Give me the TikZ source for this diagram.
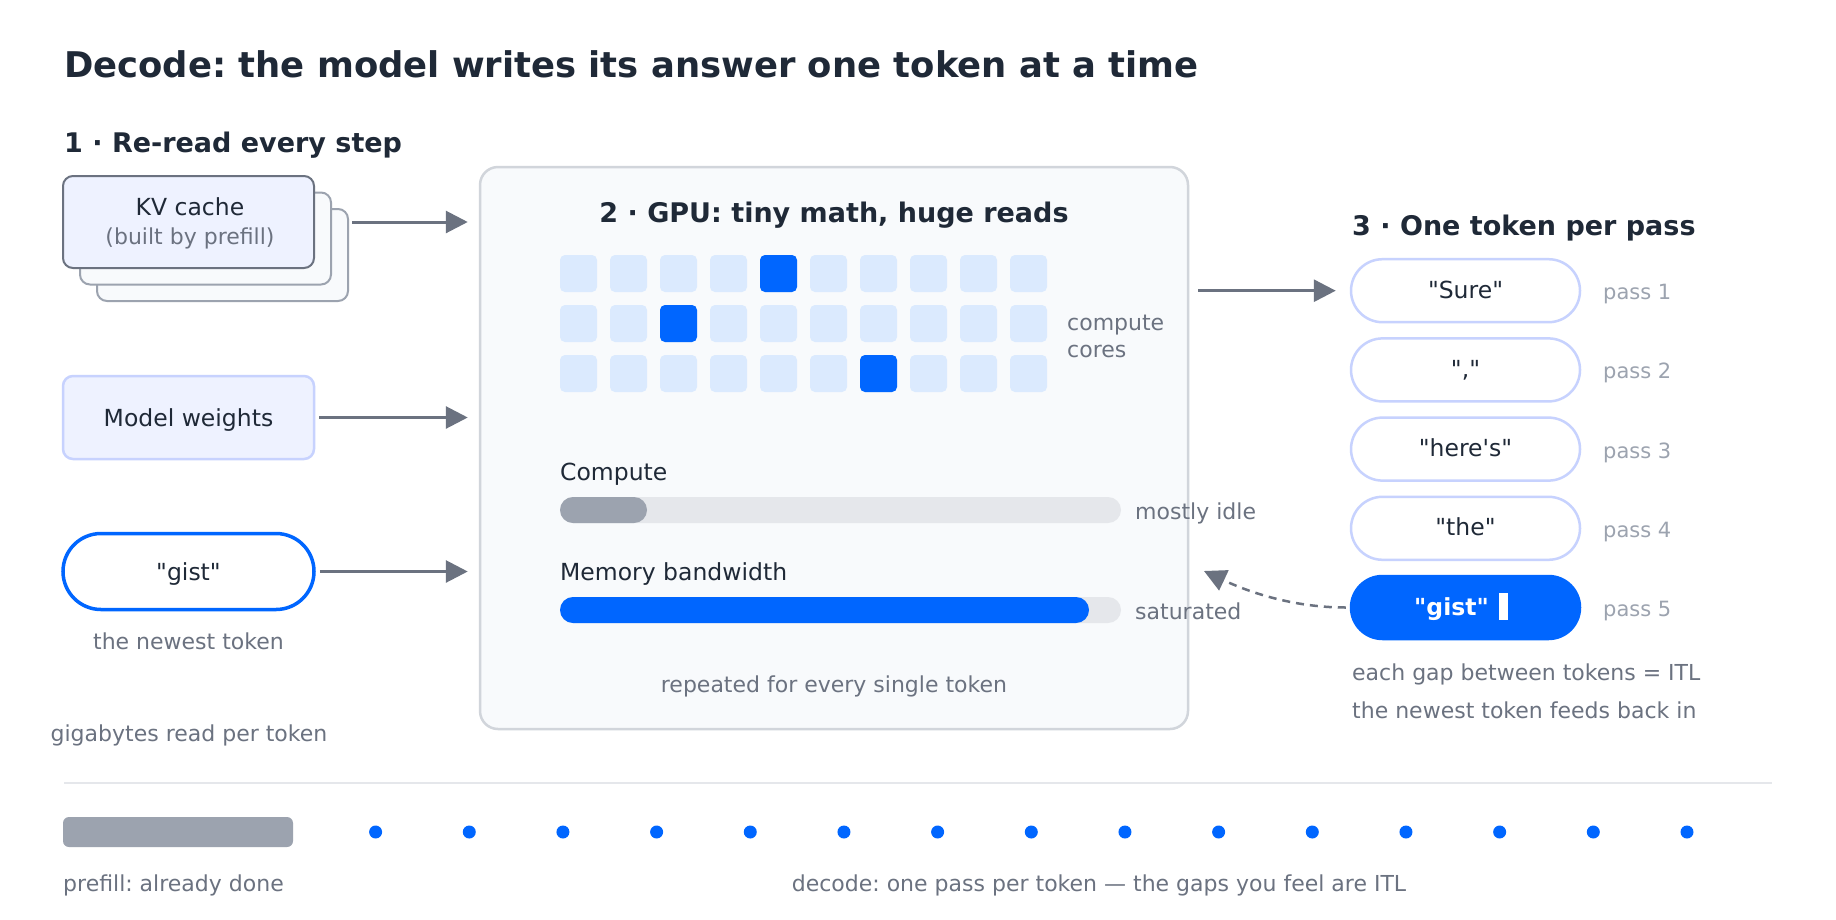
\documentclass[tikz,border=0pt]{standalone}
\usepackage{fontspec}
\setmainfont{DejaVu Sans}
\usetikzlibrary{arrows.meta}
\frenchspacing
\newcommand{\qq}{\textquotedbl}
\definecolor{ink}{HTML}{1F2937}
\definecolor{muted}{HTML}{6B7280}
\definecolor{faint}{HTML}{9CA3AF}
\definecolor{brand}{HTML}{0066FF}
\definecolor{lav}{HTML}{EEF2FF}
\definecolor{lavline}{HTML}{C7D2FE}
\definecolor{paper}{HTML}{F8FAFC}
\definecolor{gpuline}{HTML}{D1D5DB}
\definecolor{cell}{HTML}{DBEAFE}
\definecolor{track}{HTML}{E5E7EB}
\tikzset{
  txt/.style={inner sep=0, anchor=base, text=ink, font=\fontsize{23.5}{28}\selectfont},
  note/.style={inner sep=0, anchor=base, text=muted, font=\fontsize{22}{26}\selectfont},
  passlbl/.style={inner sep=0, anchor=base west, text=faint, font=\fontsize{21}{25}\selectfont},
  hd/.style={inner sep=0, anchor=base west, text=ink, font=\fontsize{27}{32}\selectfont\bfseries},
  boxnode/.style={inner sep=0, rounded corners=10pt, minimum width=251pt},
  pill/.style={inner sep=0, draw=lavline, fill=white, line width=2.5pt, rounded corners=31.5pt, minimum width=229pt, minimum height=63pt},
  arr/.style={draw=muted, line width=3pt, -{Triangle[length=22pt,width=22pt]}},
  dasharr/.style={draw=muted, line width=2.5pt, dash pattern=on 8pt off 6pt, -{Triangle[length=22pt,width=22pt]}},
}
\begin{document}
\begin{tikzpicture}[x=1pt,y=-1pt]
\useasboundingbox[fill=white] (0,0) rectangle (1836,919);

% title
\node[inner sep=0, anchor=base west, text=ink, font=\fontsize{35.4}{42}\selectfont\bfseries] (title) at (64,77) {Decode: the model writes its answer one token at a time};

% section 1
\node[hd] (h1) at (64,152.5) {1 · Re-read every step};
\node[boxnode, draw=faint, fill=paper, line width=2pt, minimum height=92pt] (kv3) at (222.5,255) {};
\node[boxnode, draw=faint, fill=paper, line width=2pt, minimum height=92pt] (kv2) at (205.5,238.5) {};
\node[boxnode, draw=muted, fill=lav, line width=2pt, minimum height=92pt] (kv) at (188.5,222) {};
\node[txt] (kvt) at (190,215) {KV cache};
\node[note] (kvs) at (190,244.5) {(built by prefill)};

\node[boxnode, draw=lavline, fill=lav, line width=2.5pt, minimum height=83pt] (mw) at (188.5,417.5) {};
\node[txt] (mwt) at (188.5,426) {Model weights};

\node[inner sep=0, draw=brand, fill=white, line width=3.5pt, rounded corners=38pt, minimum width=251pt, minimum height=76pt] (gin) at (188.5,571.5) {};
\node[txt] (gint) at (188.5,580) {\qq gist\qq};
\node[note] (newest) at (188.5,649) {the newest token};
\node[note] (gb) at (189,741) {gigabytes read per token};

% GPU box
\node[inner sep=0, draw=gpuline, fill=paper, line width=2.5pt, rounded corners=18pt, minimum width=708pt, minimum height=562pt] (gpu) at (834,448) {};
\node[inner sep=0, anchor=base, text=ink, font=\fontsize{27}{32}\selectfont\bfseries] (h2) at (834,222.5) {2 · GPU: tiny math, huge reads};

\foreach \r in {0,1,2}
  \foreach \c in {0,...,9}
    \fill[cell, rounded corners=5pt] (560+50*\c,255+50*\r) rectangle ++(37,37);
\fill[brand, rounded corners=5pt] (560+50*4,255) rectangle ++(37,37);
\fill[brand, rounded corners=5pt] (560+50*2,305) rectangle ++(37,37);
\fill[brand, rounded corners=5pt] (560+50*6,355) rectangle ++(37,37);
\node[note, anchor=base west] (cc1) at (1067,330) {compute};
\node[note, anchor=base west] (cc2) at (1067,357) {cores};

\node[txt, anchor=base west] (cl) at (560,480) {Compute};
\fill[track, rounded corners=13pt] (560,497) rectangle (1121,523);
\fill[faint, rounded corners=13pt] (560,497) rectangle (647,523);
\node[note, anchor=base west] (idle) at (1135,519) {mostly idle};

\node[txt, anchor=base west] (ml) at (560,580) {Memory bandwidth};
\fill[track, rounded corners=13pt] (560,597) rectangle (1121,623);
\fill[brand, rounded corners=13pt] (560,597) rectangle (1089,623);
\node[note, anchor=base west] (sat) at (1135,619) {saturated};

\node[note] (rep) at (834,692) {repeated for every single token};

% section 3
\node[hd] (h3) at (1352,235.5) {3 · One token per pass};
\node[pill] (p1) at (1465.5,290.7) {};
\node[pill] (p2) at (1465.5,369.9) {};
\node[pill] (p3) at (1465.5,449.1) {};
\node[pill] (p4) at (1465.5,528.3) {};
\node[pill, draw=brand, fill=brand] (p5) at (1465.5,607.5) {};
\node[txt] (t1) at (1465.5,298.2) {\qq Sure\qq};
\node[txt] (t2) at (1465.5,377.4) {\qq,\qq};
\node[txt] (t3) at (1465.5,456.6) {\qq here\textquotesingle s\qq};
\node[txt] (t4) at (1465.5,535.8) {\qq the\qq};
\node[txt, text=white, font=\fontsize{23.5}{28}\selectfont\bfseries] (t5) at (1461,615) {\qq gist\qq\hspace{10pt}\rule[-5pt]{9pt}{27pt}};
\node[passlbl] (q1) at (1603,299.7) {pass 1};
\node[passlbl] (q2) at (1603,378.9) {pass 2};
\node[passlbl] (q3) at (1603,458.1) {pass 3};
\node[passlbl] (q4) at (1603,537.3) {pass 4};
\node[passlbl] (q5) at (1603,616.5) {pass 5};
\node[note, anchor=base west] (itl) at (1352,680) {each gap between tokens = ITL};
\node[note, anchor=base west] (fb) at (1352,718) {the newest token feeds back in};

% connectors
\draw[arr] ([xshift=3pt]kv3.east |- kv.center) -- ([xshift=-11pt]gpu.west |- kv.center);
\draw[arr] ([xshift=4pt]mw.east) -- ([xshift=-11pt]gpu.west |- mw.center);
\draw[arr] ([xshift=4pt]gin.east) -- ([xshift=-11pt]gpu.west |- gin.center);
\draw[arr] ([xshift=9pt]gpu.east |- p1.center) -- ([xshift=-14pt]p1.west);
\coordinate (back) at (1204,571);
\draw[dasharr] ([xshift=-4pt]p5.west) .. controls (1285,607.5) and (1238,587) .. (back);

% timeline
\draw[track, line width=2pt] (64,783) -- (1772,783);
\node[inner sep=0, fill=faint, rounded corners=6pt, minimum width=230pt, minimum height=30pt] (pre) at (178,832) {};
\foreach \i in {0,...,14}
  \fill[brand] (375.6+93.67*\i,832) circle (6.5pt);
\node[note, anchor=base west] (pret) at (63,891) {prefill: already done};
\node[note] (dect) at (1099,891) {decode: one pass per token — the gaps you feel are ITL};
\end{tikzpicture}
\end{document}
